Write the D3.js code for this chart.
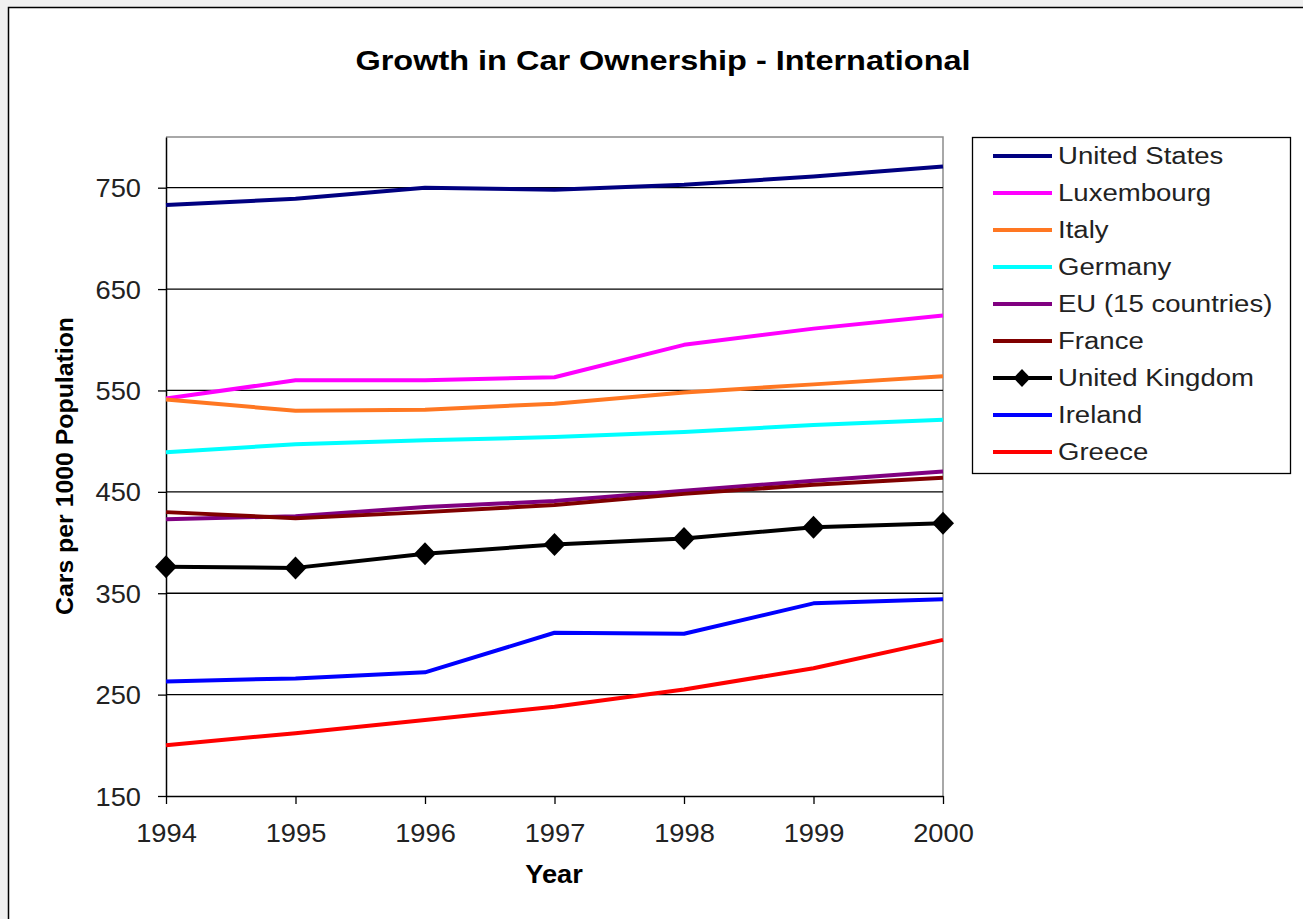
<!DOCTYPE html>
<html>
<head>
<meta charset="utf-8">
<script src="https://cdn.jsdelivr.net/npm/d3@7"></script>
<style>
  html, body { margin: 0; padding: 0; background: #f0f0f0; }
  svg { display: block; }
  text { font-family: "Liberation Sans", Arial, sans-serif; }
</style>
</head>
<body>
<svg id="chart" width="1303" height="919"></svg>
<script>
// Years on the x axis
const years = [1994, 1995, 1996, 1997, 1998, 1999, 2000];

// Cars per 1000 population, one array per country
const unitedStates = [733, 739, 750, 748, 753, 761, 771];
const luxembourg   = [542, 560, 560, 563, 595, 611, 624];
const italy        = [541, 530, 531, 537, 548, 556, 564];
const germany      = [489, 497, 501, 504, 509, 516, 521];
const eu15         = [423, 426, 435, 441, 451, 461, 470];
const france       = [430, 424, 430, 437, 448, 457, 464];
const unitedKingdom = [376, 375, 389, 398, 404, 415, 419];
const ireland      = [263, 266, 272, 311, 310, 340, 344];
const greece       = [200, 212, 225, 238, 255, 276, 304];

const seriesNames = ["United States", "Luxembourg", "Italy", "Germany",
  "EU (15 countries)", "France", "United Kingdom", "Ireland", "Greece"];
const seriesColors = ["#000080", "#ff00ff", "#ff7722", "#00ffff",
  "#800080", "#800000", "#000000", "#0000ff", "#ff0000"];
const seriesValues = [unitedStates, luxembourg, italy, germany, eu15,
  france, unitedKingdom, ireland, greece];

const yTicks = [150, 250, 350, 450, 550, 650, 750];

// Horizontal stretch applied to all lettering (wide Arial look)
const SX = 1.09;

// Diamond marker with near-equal diagonals
function diamondPath(hw, hh) {
  const p = d3.path();
  p.moveTo(0, -hh); p.lineTo(hw, 0); p.lineTo(0, hh); p.lineTo(-hw, 0); p.closePath();
  return p.toString();
}

const svg = d3.select("#chart");

// Chart sheet with border
svg.append("rect")
  .attr("x", 8.5).attr("y", 7.5)
  .attr("width", 1400).attr("height", 1000)
  .attr("fill", "#ffffff")
  .attr("stroke", "#000").attr("stroke-width", 1.5);

const plot = { left: 166, right: 943, top: 137, bottom: 796 };

const x = d3.scaleLinear().domain([1994, 2000]).range([plot.left, plot.right]);
const y = d3.scaleLinear().domain([150, 800]).range([plot.bottom, plot.top]);

// Plot frame (top and right edges)
svg.append("path")
  .attr("d", `M${plot.left},${plot.top}H${plot.right}V${plot.bottom}`)
  .attr("fill", "none").attr("stroke", "#8c8c8c").attr("stroke-width", 1.5);

// Horizontal gridlines
svg.append("g")
  .selectAll("line")
  .data(yTicks.filter(t => t > 150))
  .join("line")
  .attr("x1", plot.left).attr("x2", plot.right)
  .attr("y1", d => y(d)).attr("y2", d => y(d))
  .attr("stroke", "#000").attr("stroke-width", 1.3);

// Y axis
const yAxis = svg.append("g")
  .attr("transform", `translate(${plot.left},0)`)
  .call(d3.axisLeft(y).tickValues(yTicks).tickSize(8).tickSizeOuter(0));
yAxis.select(".domain").attr("stroke", "#000").attr("stroke-width", 1.5);
yAxis.selectAll(".tick line").attr("stroke", "#000").attr("stroke-width", 1.3);
yAxis.selectAll(".tick text")
  .attr("font-size", 25).attr("fill", "#222")
  .attr("font-family", "Liberation Sans, Arial, sans-serif")
  .attr("x", -25 / SX).attr("y", 0).attr("dy", "0.36em")
  .attr("transform", `scale(${SX},1)`);

// X axis
const xAxis = svg.append("g")
  .attr("transform", `translate(0,${plot.bottom})`)
  .call(d3.axisBottom(x).tickValues(years).tickFormat(d3.format("d")).tickSize(8).tickSizeOuter(0));
xAxis.select(".domain").attr("stroke", "#000").attr("stroke-width", 1.5);
xAxis.selectAll(".tick line").attr("stroke", "#000").attr("stroke-width", 1.3);
xAxis.selectAll(".tick text")
  .attr("font-size", 25).attr("fill", "#222")
  .attr("font-family", "Liberation Sans, Arial, sans-serif")
  .attr("y", 46).attr("dy", 0)
  .attr("transform", `scale(${SX},1)`);

// Country lines
const line = d3.line()
  .x((d, i) => x(years[i]))
  .y(d => y(d));

const lines = svg.append("g");
seriesValues.forEach((vals, k) => {
  lines.append("path")
    .datum(vals)
    .attr("d", line)
    .attr("fill", "none")
    .attr("stroke", seriesColors[k])
    .attr("stroke-width", 4)
    .attr("stroke-linejoin", "round");
});

// United Kingdom diamond markers
svg.append("g")
  .selectAll("path")
  .data(unitedKingdom)
  .join("path")
  .attr("d", diamondPath(11, 11.5))
  .attr("transform", (d, i) => `translate(${x(years[i])},${y(d)})`)
  .attr("fill", "#000");

// Title
svg.append("text")
  .attr("transform", `translate(663,70) scale(1.16,1)`)
  .attr("text-anchor", "middle")
  .attr("font-size", 28).attr("font-weight", "bold")
  .text("Growth in Car Ownership - International");

// Axis titles
svg.append("text")
  .attr("transform", `translate(554,883) scale(${SX},1)`)
  .attr("text-anchor", "middle")
  .attr("font-size", 25).attr("font-weight", "bold")
  .text("Year");

svg.append("text")
  .attr("transform", "translate(73,466) rotate(-90) scale(1.08,1)")
  .attr("text-anchor", "middle")
  .attr("font-size", 23).attr("font-weight", "bold")
  .text("Cars per 1000 Population");

// Legend
const legend = svg.append("g");
legend.append("rect")
  .attr("x", 972.5).attr("y", 137.5)
  .attr("width", 318).attr("height", 336)
  .attr("fill", "#fff").attr("stroke", "#000").attr("stroke-width", 1.3);

seriesNames.forEach((name, k) => {
  const ly = 156 + k * 37;
  legend.append("line")
    .attr("x1", 993).attr("x2", 1052)
    .attr("y1", ly).attr("y2", ly)
    .attr("stroke", seriesColors[k]).attr("stroke-width", 4);
  if (name === "United Kingdom") {
    legend.append("path")
      .attr("d", diamondPath(8.5, 9))
      .attr("transform", `translate(1022,${ly})`)
      .attr("fill", "#000");
  }
  legend.append("text")
    .attr("transform", `translate(1058,${ly + 8}) scale(1.125,1)`)
    .attr("font-size", 24.5).attr("fill", "#222")
    .text(name);
});
</script>
</body>
</html>
